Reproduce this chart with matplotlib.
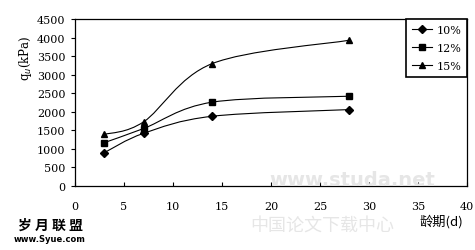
import matplotlib.pyplot as plt
import numpy as np
from matplotlib.path import Path
from matplotlib.patches import PathPatch
from matplotlib.lines import Line2D

plt.rcParams['font.family'] = ['DejaVu Serif', 'Noto Sans CJK SC']

# curing age (days) and unconfined strength (kPa)
days = [3, 7, 14, 28]
q_10 = [900, 1420, 1880, 2060]
q_12 = [1170, 1550, 2260, 2420]
q_15 = [1390, 1730, 3300, 3930]
series = [('10%', q_10, 'D', 3.6), ('12%', q_12, 's', 4), ('15%', q_15, '^', 4.6)]

x_ticks = [0, 5, 10, 15, 20, 25, 30, 35, 40]
y_ticks = [0, 500, 1000, 1500, 2000, 2500, 3000, 3500, 4000, 4500]


def smooth_path(x, y):
    # Excel style smoothed line: cubic bezier through the points
    pts = np.column_stack([x, y]).astype(float)
    n = len(pts)
    verts = [pts[0]]
    codes = [Path.MOVETO]
    for i in range(n - 1):
        p0 = pts[i - 1] if i > 0 else pts[i]
        p1 = pts[i]
        p2 = pts[i + 1]
        p3 = pts[i + 2] if i + 2 < n else pts[i + 1]
        c1 = p1 + (p2 - p0) / 6
        c2 = p2 - (p3 - p1) / 6
        verts += [c1, c2, p2]
        codes += [Path.CURVE4] * 3
    return Path(verts, codes)


fig = plt.figure(figsize=(4.75, 2.51), dpi=100)
ax = fig.add_axes([0.158, 0.255, 0.825, 0.665])

handles = []
for name, vals, mk, ms in series:
    ax.add_patch(PathPatch(smooth_path(days, vals), fill=False, lw=0.8, ec='black'))
    ax.plot(days, vals, ls='none', marker=mk, ms=ms, color='black')
    handles.append(Line2D([], [], color='black', lw=0.8, marker=mk, ms=ms))

ax.set_xlim(0, 40)
ax.set_ylim(0, 4500)
ax.set_xticks(x_ticks)
ax.set_yticks(y_ticks)
ax.tick_params(axis='x', direction='in', length=3, pad=11, labelsize=8)
ax.tick_params(axis='y', direction='out', length=3, pad=4, labelsize=8)
for s in ax.spines.values():
    s.set_linewidth(0.9)

leg = ax.legend(handles, ['10%', '12%', '15%'], loc='upper right', borderaxespad=0,
                fancybox=False, edgecolor='black', fontsize=8, handlelength=1.8,
                handletextpad=0.4, borderpad=0.5, framealpha=1, labelspacing=0.75)
leg.get_frame().set_linewidth(1.2)

fig.text(25 / 475, 1 - 58 / 251, 'q$_u$(kPa)', rotation=90, ha='center', va='center', fontsize=8.5)
fig.text(441 / 475, 1 - 222 / 251, '龄期(d)', ha='center', va='center', fontsize=9.5,
         family=['Noto Sans CJK SC', 'DejaVu Sans'])

# watermarks
fig.text(352 / 475, 1 - 180 / 251, 'www.studa.net', ha='center', va='center', fontsize=14,
         color='#e6e6e6', family=['DejaVu Sans'], weight='bold', zorder=0)
fig.text(322 / 475, 1 - 227 / 251, '中国论文下载中心', ha='center', va='center', fontsize=13,
         color='#e6e6e6', family=['Noto Sans CJK SC'], zorder=0)
fig.text(50 / 475, 1 - 226 / 251, '岁 月 联 盟', ha='center', va='center', fontsize=10,
         weight='bold', family=['Noto Sans CJK SC'])
fig.text(50 / 475, 1 - 240 / 251, 'www.Syue.com', ha='center', va='center', fontsize=6,
         weight='bold', family=['DejaVu Sans'])

fig.savefig('out.png', dpi=100)
